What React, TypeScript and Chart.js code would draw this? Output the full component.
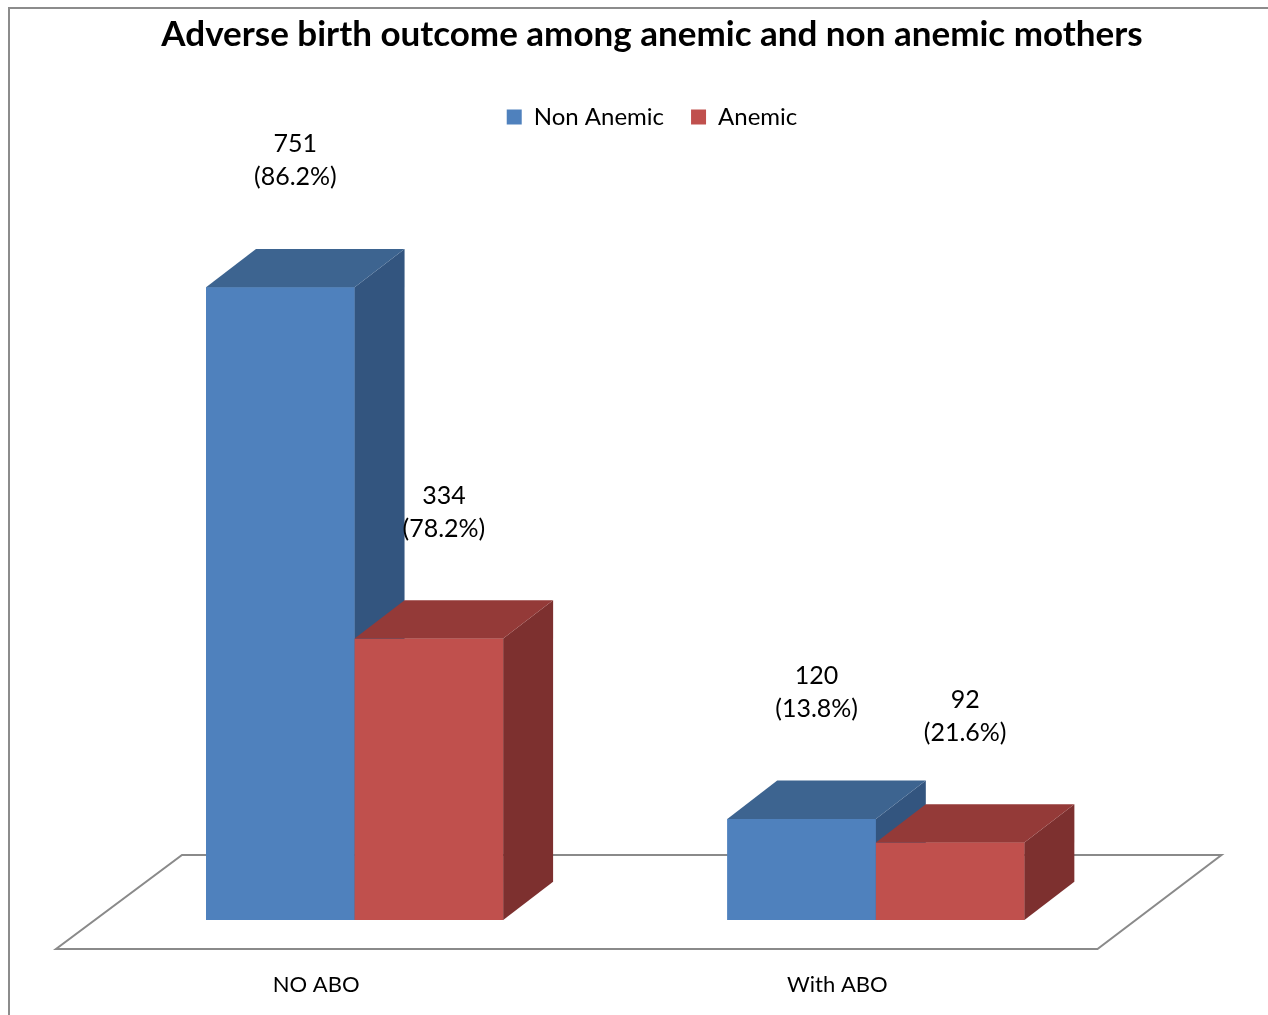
import React, { useEffect, useRef } from "react";
import { Chart, registerables } from "chart.js";

Chart.register(...registerables);

const titleText = "Adverse birth outcome among anemic and non anemic mothers";
const categories = ["NO ABO", "With ABO"];
const seriesNames = ["Non Anemic", "Anemic"];
const nonAnemicCounts = [751, 120];
const anemicCounts = [334, 92];
const nonAnemicPercents = [86.2, 13.8];
const anemicPercents = [78.2, 21.6];

const FONT = "Lato, 'Open Sans', sans-serif";
const frontColors = ["#4F81BD", "#C0504D"];
const topColors = ["#3D6490", "#943A38"];
const sideColors = ["#33557F", "#7D302F"];
const percents = [nonAnemicPercents, anemicPercents];
const counts = [nonAnemicCounts, anemicCounts];

// 3D depth as fraction of bar width
const DEPTH_X = 0.336;
const DEPTH_Y = -0.258;

const threeDPlugin = {
  id: "threeD",
  beforeDraw(chart: any) {
    const { ctx } = chart;
    ctx.save();
    ctx.fillStyle = "#ffffff";
    ctx.fillRect(0, 0, chart.width, chart.height);
    ctx.strokeStyle = "#8C8C8C";
    ctx.lineWidth = 2;
    ctx.strokeRect(9, 8, chart.width + 20, chart.height + 20);
    ctx.restore();
  },
  beforeDatasetsDraw(chart: any) {
    const { ctx, chartArea } = chart;
    const b = chartArea.bottom;
    ctx.save();
    ctx.strokeStyle = "#8A8A8A";
    ctx.lineWidth = 2;
    ctx.beginPath();
    ctx.moveTo(chartArea.left - 38, b + 29);
    ctx.lineTo(chartArea.right - 39, b + 29);
    ctx.lineTo(chartArea.right + 85, b - 65);
    ctx.lineTo(chartArea.left + 88, b - 65);
    ctx.closePath();
    ctx.stroke();
    ctx.restore();
  },
  afterDatasetsDraw(chart: any) {
    const { ctx } = chart;
    ctx.save();
    // boxes: draw in dataset order so later series overlap earlier sides
    chart.data.datasets.forEach((ds: any, i: number) => {
      const meta = chart.getDatasetMeta(i);
      meta.data.forEach((el: any) => {
        const p = el.getProps(["x", "y", "base", "width"], true);
        const l = p.x - p.width / 2;
        const r = p.x + p.width / 2;
        const t = p.y;
        const bt = p.base;
        const dx = p.width * DEPTH_X;
        const dy = p.width * DEPTH_Y;
        ctx.fillStyle = frontColors[i];
        ctx.fillRect(l, t, r - l, bt - t);
        ctx.fillStyle = sideColors[i];
        ctx.beginPath();
        ctx.moveTo(r, t);
        ctx.lineTo(r + dx, t + dy);
        ctx.lineTo(r + dx, bt + dy);
        ctx.lineTo(r, bt);
        ctx.closePath();
        ctx.fill();
        ctx.fillStyle = topColors[i];
        ctx.beginPath();
        ctx.moveTo(l, t);
        ctx.lineTo(l + dx, t + dy);
        ctx.lineTo(r + dx, t + dy);
        ctx.lineTo(r, t);
        ctx.closePath();
        ctx.fill();
      });
    });
    // data labels
    ctx.font = `25px ${FONT}`;
    ctx.fillStyle = "#000000";
    ctx.textAlign = "center";
    ctx.textBaseline = "middle";
    chart.data.datasets.forEach((ds: any, i: number) => {
      const meta = chart.getDatasetMeta(i);
      meta.data.forEach((el: any, j: number) => {
        const p = el.getProps(["x", "y", "width"], true);
        const x = p.x + 15;
        ctx.fillText(String(counts[i][j]), x, p.y - 143);
        ctx.fillText(`(${percents[i][j].toFixed(1)}%)`, x, p.y - 110);
      });
    });
    ctx.restore();
  },
};

export default function App() {
  const canvasRef = useRef<HTMLCanvasElement | null>(null);

  useEffect(() => {
    if (!canvasRef.current) return;
    const chart = new Chart(canvasRef.current, {
      type: "bar",
      data: {
        labels: categories,
        datasets: [
          {
            label: seriesNames[0],
            data: nonAnemicCounts,
            backgroundColor: frontColors[0],
            borderWidth: 0,
            categoryPercentage: 0.57,
            barPercentage: 1.0,
          },
          {
            label: seriesNames[1],
            data: anemicCounts,
            backgroundColor: frontColors[1],
            borderWidth: 0,
            categoryPercentage: 0.57,
            barPercentage: 1.0,
          },
        ],
      },
      options: {
        responsive: false,
        animation: false,
        events: [],
        layout: { padding: { left: 36, right: 0, top: 0, bottom: 0 } },
        plugins: {
          title: {
            display: true,
            text: titleText,
            color: "#000000",
            font: { family: FONT, size: 35, weight: "bold" },
            padding: { top: 14, bottom: 22 },
          },
          legend: {
            display: true,
            position: "top",
            labels: {
              boxWidth: 15,
              boxHeight: 15,
              padding: 27,
              color: "#000000",
              font: { family: FONT, size: 24 },
            },
          },
          tooltip: { enabled: false },
        },
        scales: {
          x: {
            display: true,
            grid: { display: false },
            border: { display: false },
            ticks: {
              color: "#000000",
              font: { family: FONT, size: 22 },
              labelOffset: -38.5,
              padding: 44,
            },
            afterFit: (s: any) => {
              s.height = 95;
            },
          },
          y: {
            min: 0,
            max: 927,
            display: true,
            grid: { display: false },
            border: { display: false },
            ticks: { display: false },
            afterFit: (s: any) => {
              s.width = 58;
            },
          },
          y2: {
            position: "right",
            display: true,
            grid: { display: false },
            border: { display: false },
            ticks: { display: false },
            afterFit: (s: any) => {
              s.width = 131.5;
            },
          },
        },
      },
      plugins: [threeDPlugin],
    } as any);
    return () => chart.destroy();
  }, []);

  return (
    <div style={{ position: "fixed", left: 0, top: 0, width: 1268, height: 1015 }}>
      <canvas ref={canvasRef} width={1268} height={1015} style={{ display: "block" }} />
    </div>
  );
}
